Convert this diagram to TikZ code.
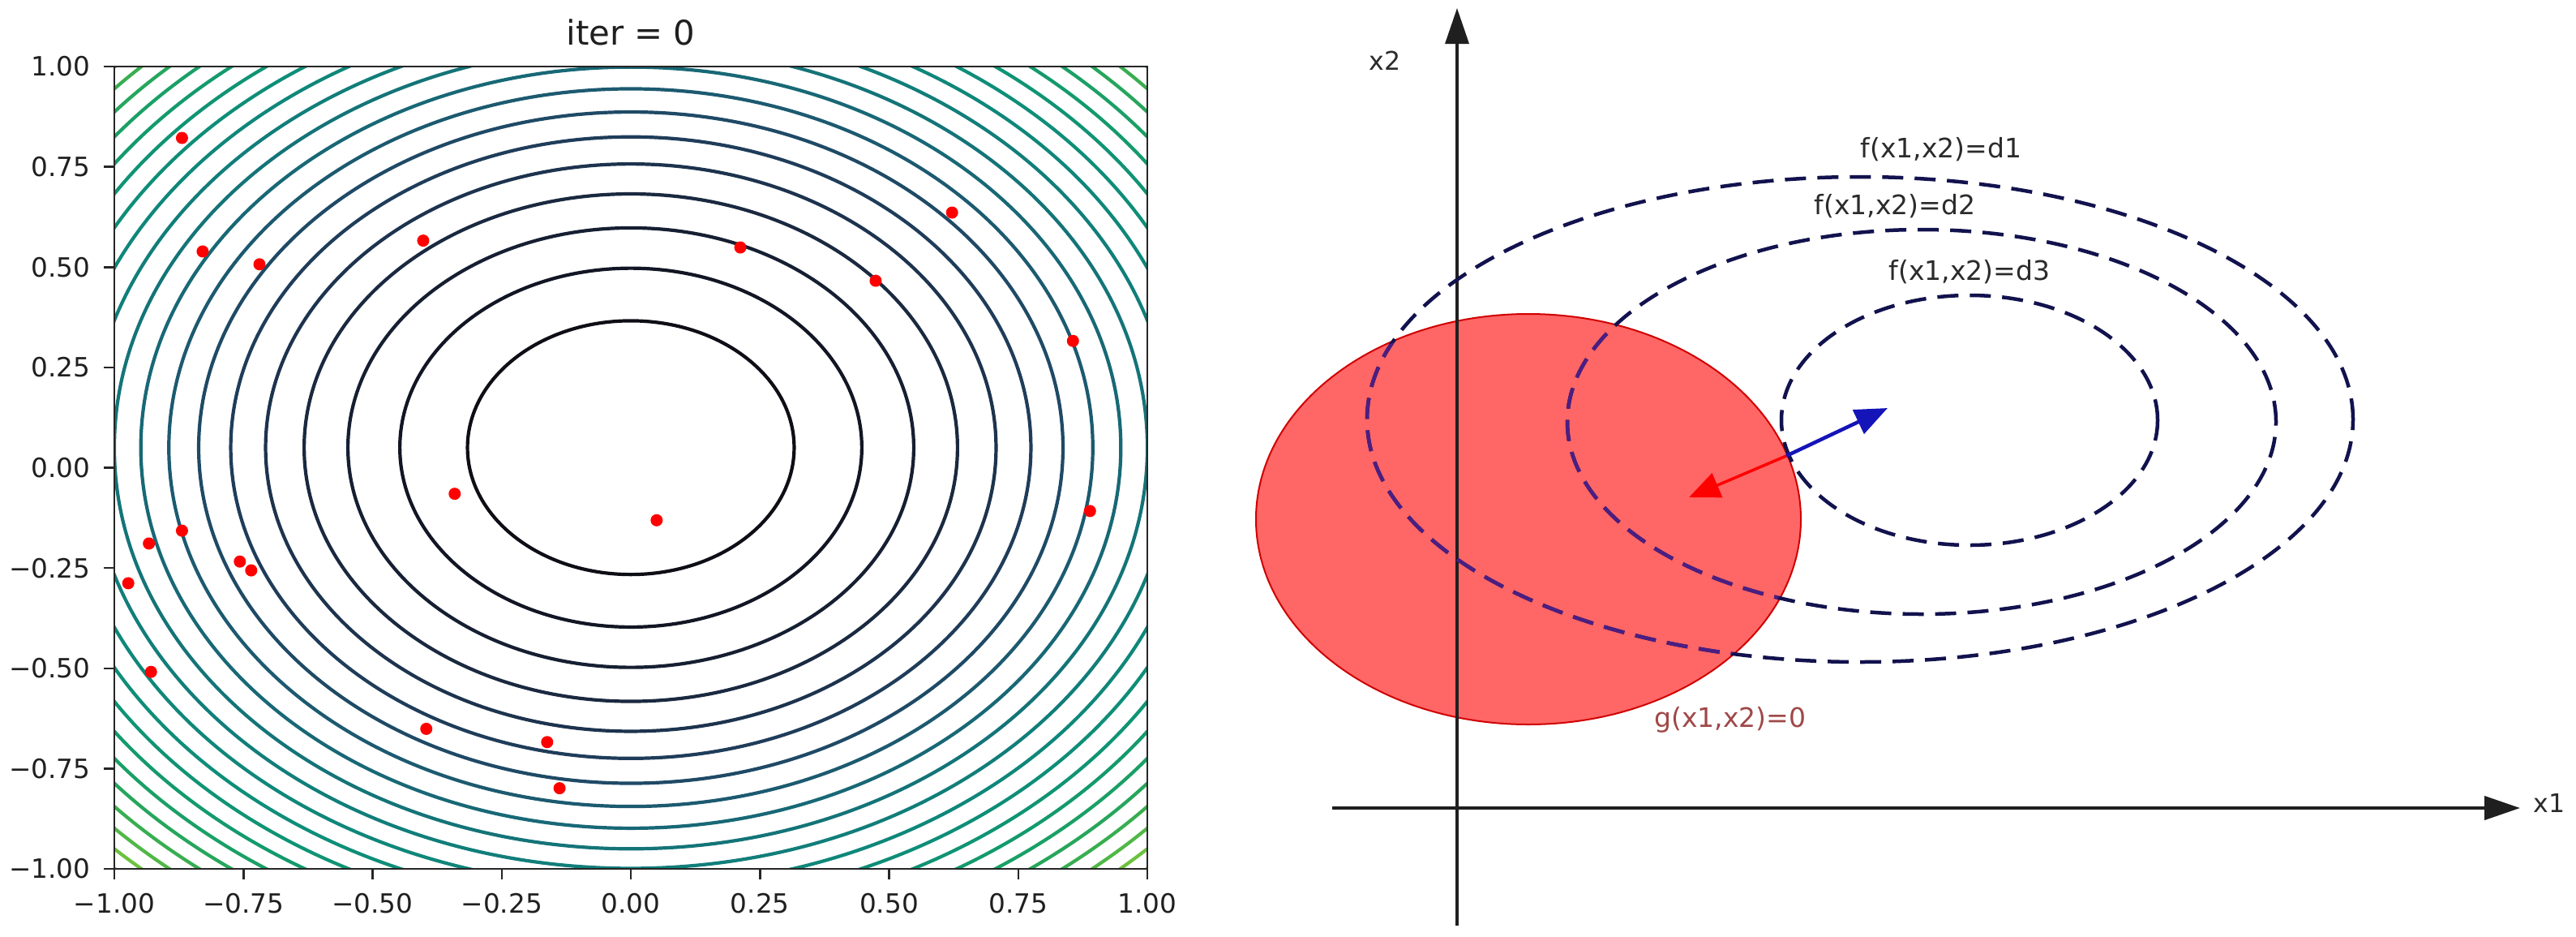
\documentclass[tikz,border=0pt]{standalone}
\usepackage{fontspec}
\setmainfont{DejaVu Sans}
\usetikzlibrary{arrows.meta}
\definecolor{ck1}{HTML}{0E0E16}
\definecolor{ck2}{HTML}{121624}
\definecolor{ck3}{HTML}{161F32}
\definecolor{ck4}{HTML}{1A2940}
\definecolor{ck5}{HTML}{1D334E}
\definecolor{ck6}{HTML}{1F3D5A}
\definecolor{ck7}{HTML}{1F4A66}
\definecolor{ck8}{HTML}{1C5A70}
\definecolor{ck9}{HTML}{186876}
\definecolor{ck10}{HTML}{147478}
\definecolor{ck11}{HTML}{117E7A}
\definecolor{ck12}{HTML}{0F877A}
\definecolor{ck13}{HTML}{0E8E78}
\definecolor{ck14}{HTML}{0F9474}
\definecolor{ck15}{HTML}{139A6E}
\definecolor{ck16}{HTML}{1AA066}
\definecolor{ck17}{HTML}{26A65C}
\definecolor{ck18}{HTML}{38AE50}
\definecolor{ck19}{HTML}{50B846}
\definecolor{ck20}{HTML}{6CC23E}
\definecolor{ck21}{HTML}{8CCC38}
\definecolor{gfill}{HTML}{FF6666}
\definecolor{gborder}{HTML}{D00000}
\definecolor{navy}{HTML}{12124E}
\definecolor{purp}{HTML}{4B1E82}
\definecolor{lblgray}{HTML}{2B2B2B}
\definecolor{glbl}{HTML}{A04848}
\definecolor{arrblue}{HTML}{1414B8}
\begin{document}
\begin{tikzpicture}[
  spine/.style={line width=0.025cm, draw=black!85},
  tickmark/.style={line width=0.025cm, draw=black!85},
  ticklbl/.style={inner sep=0pt, font=\fontsize{9.3}{11}\selectfont, text=black!88},
  titlelbl/.style={inner sep=0pt, font=\fontsize{11.9}{14}\selectfont, text=black!88},
  dot/.style={fill=red},
  contour/.style={line width=0.042cm},
  axisline/.style={line width=0.042cm, draw=black!88},
  fdash/.style={line width=0.045cm, dash pattern=on 0.26cm off 0.14cm},
  flbl/.style={inner sep=0pt, font=\fontsize{9.4}{11}\selectfont, text=lblgray},
  axlbl/.style={inner sep=0pt, font=\fontsize{9}{11}\selectfont, text=lblgray},
]
\useasboundingbox (0,0) rectangle (31.77,-11.54);
\fill[white] (0,0) rectangle (31.77,-11.54);

% ---------------- left: contour plot ----------------
\begin{scope}[shift={(7.78cm,-5.765cm)}, x=6.37cm, y=4.945cm]
  \begin{scope}
    \clip (-1,-1) rectangle (1,1);
    \foreach \k in {1,...,21} {
      \draw[contour, color=ck\k] (0,0.05) ellipse [x radius={sqrt(0.1*\k)*6.37cm}, y radius={sqrt(0.1*\k)*4.945cm}];
    }
  \end{scope}
  \foreach \px/\py in {-0.869/0.822, -0.829/0.539, -0.719/0.507, -0.402/0.566,
                       0.212/0.549, 0.622/0.636, 0.474/0.466, 0.856/0.316,
                       -0.341/-0.065, -0.869/-0.157, -0.933/-0.189, -0.973/-0.288,
                       -0.757/-0.234, -0.735/-0.256, -0.929/-0.509, -0.396/-0.651,
                       -0.162/-0.684, -0.138/-0.799, 0.050/-0.131, 0.889/-0.108} {
    \fill[dot] (\px,\py) circle [radius=0.075cm];
  }
  \draw[spine] (-1,-1) rectangle (1,1);
  \foreach \v/\t [count=\i] in {1/1.00, 0.75/0.75, 0.5/0.50, 0.25/0.25, 0/0.00,
                                -0.25/−0.25, -0.5/−0.50, -0.75/−0.75, -1/−1.00} {
    \draw[tickmark] (-1,\v) -- ++(-0.13cm,0);
    \node[ticklbl, anchor=east, xshift=-0.29cm] (yt\i) at (-1,\v) {\t};
    \draw[tickmark] (\v,-1) -- ++(0,-0.13cm);
    \node[ticklbl, anchor=north, yshift=-0.30cm] (xt\i) at (\v,-1) {\t};
  }
  \node[titlelbl, anchor=base] (title) at (0,1) [yshift=0.265cm] {iter = 0};
\end{scope}

% ---------------- right: constraint diagram ----------------
\fill[gfill] (18.85,-6.40) ellipse [x radius=3.36cm, y radius=2.53cm];
\draw[gborder, line width=0.02cm] (18.85,-6.40) ellipse [x radius=3.36cm, y radius=2.53cm];

\coordinate (x1s) at (16.43,-9.96);
\coordinate (x1e) at (31.08,-9.96);
\coordinate (x2s) at (17.97,-11.41);
\coordinate (x2e) at (17.97,-0.10);
\draw[axisline, -{Triangle[length=0.44cm, width=0.29cm]}] (x1s) -- (x1e);
\draw[axisline, line width=0.035cm, -{Triangle[length=0.44cm, width=0.29cm]}] (x2s) -- (x2e);
\node[axlbl] (lx1) at (31.44,-9.90) {x1};
\node[axlbl] (lx2) at (17.08,-0.75) {x2};

\draw[fdash, navy] (22.94,-5.17) ellipse [x radius=6.08cm, y radius=2.99cm];
\draw[fdash, navy] (23.70,-5.20) ellipse [x radius=4.37cm, y radius=2.37cm];
\draw[fdash, navy] (24.29,-5.18) ellipse [x radius=2.32cm, y radius=1.54cm];
\begin{scope}
  \clip (18.85,-6.40) ellipse [x radius=3.34cm, y radius=2.51cm];
  \draw[fdash, purp] (22.94,-5.17) ellipse [x radius=6.08cm, y radius=2.99cm];
  \draw[fdash, purp] (23.70,-5.20) ellipse [x radius=4.37cm, y radius=2.37cm];
  \draw[fdash, purp] (24.29,-5.18) ellipse [x radius=2.32cm, y radius=1.54cm];
\end{scope}

\node[flbl] (d1) at (23.94,-1.84) {f(x1,x2)=d1};
\node[flbl] (d2) at (23.37,-2.54) {f(x1,x2)=d2};
\node[flbl] (d3) at (24.29,-3.35) {f(x1,x2)=d3};
\node[flbl, text=glbl] (g0) at (21.34,-8.87) {g(x1,x2)=0};

\coordinate (P) at (22.03,-5.62);
\coordinate (bt) at (23.28,-5.03);
\coordinate (rt) at (20.83,-6.13);
\draw[line width=0.045cm, arrblue, -{Triangle[length=0.40cm, width=0.32cm]}] (P) -- (bt);
\draw[line width=0.035cm, red, -{Triangle[length=0.38cm, width=0.32cm]}] (P) -- (rt);
\end{tikzpicture}
\end{document}
